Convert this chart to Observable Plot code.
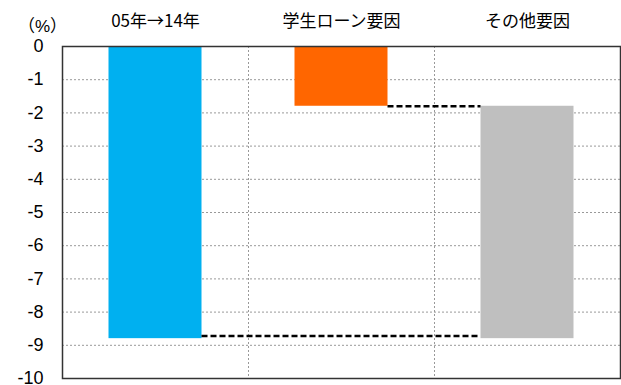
<!DOCTYPE html>
<html>
<head>
<meta charset="utf-8">
<script src="https://cdn.jsdelivr.net/npm/d3@7"></script>
<script src="https://cdn.jsdelivr.net/npm/@observablehq/plot@0.6"></script>
<style>
  html, body { margin: 0; padding: 0; background: #fff; }
</style>
</head>
<body>
<div id="chart"></div>
<script>
// Data
const categories = ["05年→14年", "学生ローン要因", "その他要因"];
const barStart = [0, 0, -1.8];
const barEnd = [-8.8, -1.8, -8.8];
const barColors = ["#00B0F0", "#FF6600", "#BFBFBF"];
const yTicks = [0, -1, -2, -3, -4, -5, -6, -7, -8, -9, -10];
const unitLabel = "（%）";
// connectors: from category index -> to category index at value y
const connectorFrom = [1, 0];
const connectorTo = [2, 2];
const connectorY = [-1.8, -8.72];

const bars = categories.map((c, i) => ({i, name: c, y1: barStart[i], y2: barEnd[i], color: barColors[i]}));
const connectors = connectorY.map((y, k) => ({from: connectorFrom[k], to: connectorTo[k], y}));

const latin = "'Liberation Sans', Arial, 'Noto Sans CJK JP', sans-serif";
const cjk = "'Noto Sans CJK JP', 'Liberation Sans', sans-serif";

const chart = Plot.plot({
  width: 621,
  height: 385,
  marginTop: 46,
  marginBottom: 7,
  marginLeft: 62,
  marginRight: 1,
  style: {fontSize: "18px", fontFamily: latin, color: "#000", background: "#fff"},
  x: {type: "linear", domain: [0, categories.length]},
  y: {domain: [-10, 0]},
  marks: [
    Plot.ruleY(yTicks.slice(1, -1), {stroke: "#999", strokeDasharray: "2,2", strokeWidth: 1, strokeOpacity: 1}),
    Plot.ruleX(d3.range(1, categories.length), {stroke: "#999", strokeDasharray: "2,2", strokeWidth: 1, strokeOpacity: 1}),
    Plot.rect(bars, {x1: d => d.i + 0.25, x2: d => d.i + 0.75, y1: "y1", y2: "y2", fill: "color"}),
    Plot.ruleY(connectors, {x1: d => d.from + 0.75, x2: d => d.to + 0.25, y: "y", stroke: "#000", strokeWidth: 2.5, strokeDasharray: "6,3"}),
    Plot.frame({stroke: "#333", strokeWidth: 1.5}),
    Plot.axisY({ticks: yTicks, tickSize: 0, tickPadding: 19, label: null, tickFormat: d => `${d}`, fill: "#000", fontSize: 18, dy: 0}),
    Plot.axisX({anchor: "top", ticks: categories.map((c, i) => i + 0.5), tickFormat: (d) => categories[Math.floor(d)], tickSize: 0, tickPadding: 20, label: null, fill: "#000", fontSize: 17, fontFamily: cjk}),
    Plot.text([unitLabel], {frameAnchor: "top-left", text: d => d, textAnchor: "middle", dx: -20, dy: -27, fill: "#000", fontSize: 17, fontFamily: latin})
  ]
});
document.getElementById("chart").appendChild(chart);
</script>
</body>
</html>
